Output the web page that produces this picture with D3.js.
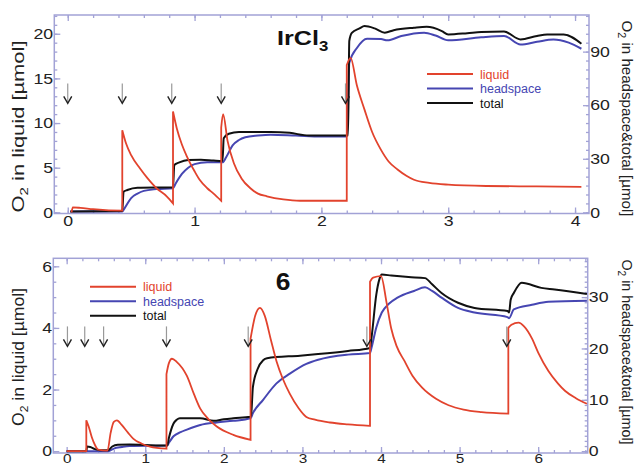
<!DOCTYPE html>
<html>
<head>
<meta charset="utf-8">
<script src="https://cdn.jsdelivr.net/npm/d3@7"></script>
<style>body{margin:0;background:#fff}</style>
</head>
<body>
<svg id="chart"></svg>
<script>
// ---- IrCl3 panel: time [h], liquid in left units, headspace/total in right units
var topLiquid = [[0.03,0],[0.04,0.55],[0.1,0.5],[0.2,0.35],[0.3,0.25],[0.43,0.2],[0.43,9.2],[0.46,7.7],[0.5,6.4],
  [0.57,4.9],[0.63,3.8],[0.7,2.7],[0.78,1.8],[0.83,1.0],[0.83,11.3],[0.86,9.4],[0.9,7.6],[0.94,6.25],[1.0,4.6],
  [1.04,3.64],[1.1,2.7],[1.15,2.1],[1.21,1.3],[1.21,9.5],[1.225,11.0],[1.26,8.0],[1.31,5.5],[1.37,3.8],[1.44,2.7],
  [1.5,2.1],[1.57,1.8],[1.7,1.45],[1.83,1.3],[2.0,1.3],[2.2,1.3],[2.2,16.5],[2.23,17.3],[2.28,14.2],[2.34,11.5],
  [2.4,9.0],[2.47,7.0],[2.53,5.7],[2.6,4.8],[2.67,4.1],[2.73,3.65],[2.85,3.3],[3.0,3.1],[3.3,2.95],[3.7,2.9],[4.05,2.85]];
var topHeadspace = [[0.02,0.5],[0.43,0.5],[0.45,2.5],[0.5,8],[0.55,10.5],[0.6,12],[0.7,13],[0.83,13.5],[0.85,16],
  [0.9,21.5],[0.95,25],[1.0,27],[1.1,28],[1.22,28],[1.25,31],[1.3,37.5],[1.35,40.5],[1.4,42],[1.5,43],[1.6,43.5],
  [1.8,43],[2.0,42.5],[2.2,42.5],[2.21,60],[2.22,83.7],[2.28,92],[2.36,97.2],[2.47,97],[2.52,96.3],[2.63,98.7],
  [2.81,100.6],[2.9,99],[3.0,96.3],[3.26,98],[3.44,98.7],[3.57,94],[3.7,95.5],[3.83,96.8],[3.95,95],[4.05,91.6]];
var topTotal = [[0.02,0.5],[0.43,0.75],[0.44,11.5],[0.47,12.5],[0.55,13.75],[0.83,14],[0.84,26.5],[0.88,28],
  [0.95,29.3],[1.05,29.5],[1.15,29],[1.22,28.75],[1.23,41.5],[1.27,44],[1.35,45],[1.6,45],[1.75,44.5],[1.9,43],
  [2.05,43],[2.21,43],[2.22,96],[2.24,100.5],[2.3,103],[2.34,104.3],[2.42,103],[2.5,100.6],[2.57,102],[2.73,103.4],
  [2.83,103.9],[2.95,101.5],[3.0,99.6],[3.15,100.3],[3.26,101],[3.44,101.2],[3.57,96.8],[3.7,98.8],[3.78,99.6],
  [3.91,99.6],[4.05,94.4]];
var topArrows = [0.0, 0.43, 0.82, 1.21, 2.19];
var topArrowLevel = 12.2;

// ---- compound 6 panel
var botLiquid = [[0,0],[0.25,0],[0.25,1.0],[0.28,0.8],[0.32,0.45],[0.36,0.2],[0.4,0.05],[0.52,0.02],[0.56,0.6],
  [0.6,0.95],[0.64,1.0],[0.7,0.85],[0.78,0.6],[0.85,0.4],[0.95,0.25],[1.06,0.15],[1.27,0.08],[1.27,2.5],[1.3,2.85],
  [1.34,3.0],[1.4,2.9],[1.53,2.44],[1.62,1.85],[1.7,1.38],[1.8,1.05],[1.91,0.8],[2.12,0.53],[2.34,0.37],
  [2.34,3.65],[2.4,4.4],[2.46,4.65],[2.52,4.4],[2.6,3.6],[2.67,2.92],[2.75,2.35],[2.84,1.86],[2.95,1.4],[3.05,1.11],
  [3.16,1.02],[3.35,0.93],[3.58,0.87],[3.86,0.82],[3.86,5.5],[3.9,5.63],[4.0,5.68],[4.07,4.83],[4.13,3.98],
  [4.2,3.4],[4.3,2.92],[4.4,2.45],[4.52,2.07],[4.7,1.7],[4.86,1.49],[5.05,1.35],[5.28,1.27],[5.62,1.22],[5.62,4.0],
  [5.66,4.1],[5.75,4.17],[5.82,4.05],[5.92,3.66],[6.0,3.2],[6.13,2.6],[6.25,2.2],[6.34,1.96],[6.48,1.72],[6.62,1.54]];
var botHeadspace = [[0,0],[0.53,0],[0.6,0.5],[0.7,0.8],[0.8,1.0],[1.28,1.1],[1.3,1.6],[1.36,2.9],[1.45,3.7],
  [1.53,4.2],[1.7,5.1],[1.91,5.6],[2.12,5.9],[2.34,6.4],[2.37,7.4],[2.5,10],[2.67,13.2],[2.84,15.1],[3.05,17],
  [3.2,17.8],[3.58,18.8],[3.86,19.1],[3.88,20.2],[3.94,24.1],[4.01,27],[4.1,28.7],[4.21,29.9],[4.42,31.2],
  [4.56,31.9],[4.65,31.2],[4.77,29.9],[4.98,27.9],[5.19,27],[5.61,26.1],[5.63,25.9],[5.69,27.6],[5.92,28.5],
  [6.13,29.1],[6.62,29.3]];
var botTotal = [[0,0],[0.25,0],[0.26,0.9],[0.3,0.8],[0.36,0.4],[0.42,0.2],[0.53,0.2],[0.58,0.9],[0.65,1.25],
  [0.8,1.3],[1.0,1.2],[1.28,1.1],[1.3,2.5],[1.33,4.2],[1.36,5.4],[1.4,6.1],[1.44,6.4],[1.7,6.4],[1.87,5.9],
  [2.0,6.2],[2.12,6.4],[2.34,6.7],[2.35,7.5],[2.37,12.5],[2.43,16],[2.5,17.7],[2.55,18.1],[2.97,18.6],[3.2,18.9],
  [3.58,19.5],[3.86,20.1],[3.88,22.2],[3.94,30.5],[3.98,33.5],[4.01,34.4],[4.13,34.2],[4.35,33.9],[4.56,33.7],
  [4.65,32.5],[4.77,30.8],[4.98,28.9],[5.19,27.9],[5.61,27.3],[5.63,27.0],[5.65,29.5],[5.69,30.8],[5.79,32.8],
  [6.04,31.8],[6.21,31.5],[6.62,30.6]];
var botArrows = [0.01, 0.23, 0.47, 1.27, 2.31, 3.82, 5.6];
var botArrowLevel = 3.4;

var seriesNames = ["liquid", "headspace", "total"];

var FONT = "'Liberation Sans', Arial, Helvetica, sans-serif";
var FRAME = "#a2a2d6";
var RED = "#e2432d", BLUE = "#4646b2", BLACK = "#111";

var svg = d3.select("#chart").attr("width", 635).attr("height", 467)
  .style("background", "#fff").style("font-family", FONT);

function steps(lo, hi, step) {
  var out = [];
  for (var i = Math.ceil(lo / step - 1e-9); i * step <= hi + 1e-9; i++) out.push(+(i * step).toFixed(4));
  return out;
}

function styleAxis(size) {
  return function (sel) {
    sel.select(".domain").remove();
    sel.selectAll("line").attr("stroke", FRAME).attr("stroke-width", 1.3);
    sel.selectAll("text").attr("font-size", size || 15).attr("fill", "#222").attr("font-family", FONT)
      .attr("transform", "scale(1.18,1)");
  };
}

// smooth curve per piece, pieces split where the series jumps vertically
function jumpPath(data, x, y) {
  var line = d3.line().x(function (d) { return x(d[0]); }).y(function (d) { return y(d[1]); })
    .curve(d3.curveMonotoneX);
  var pieces = [], cur = [data[0]];
  for (var i = 1; i < data.length; i++) {
    if (data[i][0] === data[i - 1][0]) { pieces.push(cur); cur = [data[i]]; }
    else cur.push(data[i]);
  }
  pieces.push(cur);
  return pieces.map(function (pc, i) {
    var s = pc.length > 1 ? line(pc) : "M" + x(pc[0][0]) + "," + y(pc[0][1]);
    return i === 0 ? s : "L" + s.slice(1);
  }).join("");
}

function drawPanel(p) {
  var g = svg.append("g");
  var x = d3.scaleLinear().domain(p.xDomain).range([p.left, p.right]);
  var yL = d3.scaleLinear().domain(p.yDomain).range([p.bottom, p.top]);
  var yR = d3.scaleLinear().domain(p.yDomain.map(function (v) { return v * p.ratio; })).range([p.bottom, p.top]);

  var xMinor = steps(p.xDomain[0], p.xDomain[1], 0.2);
  var xMajor = steps(p.xDomain[0], p.xDomain[1], 1);

  // bottom & top x ticks (inside)
  g.append("g").attr("transform", "translate(0," + p.bottom + ")")
    .call(d3.axisBottom(x).tickValues(xMinor).tickSize(-3).tickFormat("")).call(styleAxis());
  g.append("g").attr("transform", "translate(0," + p.bottom + ")")
    .call(d3.axisBottom(x).tickValues(xMajor).tickSizeInner(-6).tickSizeOuter(0).tickPadding(p.xPad)
      .tickFormat(d3.format("d"))).call(styleAxis(p.xFont));
  g.append("g").attr("transform", "translate(0," + p.top + ")")
    .call(d3.axisTop(x).tickValues(xMinor).tickSize(-3).tickFormat("")).call(styleAxis());
  g.append("g").attr("transform", "translate(0," + p.top + ")")
    .call(d3.axisTop(x).tickValues(xMajor).tickSize(-6).tickFormat("")).call(styleAxis());

  // left axis
  g.append("g").attr("transform", "translate(" + p.left + ",0)")
    .call(d3.axisLeft(yL).tickValues(steps(p.yDomain[0], p.yDomain[1], p.lMinor)).tickSize(-3).tickFormat(""))
    .call(styleAxis());
  g.append("g").attr("transform", "translate(" + p.left + ",0)")
    .call(d3.axisLeft(yL).tickValues(steps(p.yDomain[0], p.yDomain[1], p.lMajor)).tickSizeInner(-6)
      .tickSizeOuter(0).tickPadding(1).tickFormat(d3.format("d"))).call(styleAxis());

  // right axis
  var rd = yR.domain();
  g.append("g").attr("transform", "translate(" + p.right + ",0)")
    .call(d3.axisRight(yR).tickValues(steps(rd[0], rd[1], p.rMinor)).tickSize(-3).tickFormat(""))
    .call(styleAxis());
  g.append("g").attr("transform", "translate(" + p.right + ",0)")
    .call(d3.axisRight(yR).tickValues(steps(rd[0], rd[1], p.rMajor)).tickSizeInner(-6)
      .tickSizeOuter(0).tickPadding(1).tickFormat(d3.format("d"))).call(styleAxis());

  // frame
  g.append("rect").attr("x", p.left).attr("y", p.top)
    .attr("width", p.right - p.left).attr("height", p.bottom - p.top)
    .attr("fill", "none").attr("stroke", FRAME).attr("stroke-width", 1.5);

  // curves
  g.append("path").attr("d", jumpPath(p.headspace, x, yR)).attr("fill", "none").attr("stroke", BLUE).attr("stroke-width", 2);
  g.append("path").attr("d", jumpPath(p.total, x, yR)).attr("fill", "none").attr("stroke", BLACK).attr("stroke-width", 2);
  g.append("path").attr("d", jumpPath(p.liquid, x, yL)).attr("fill", "none").attr("stroke", RED).attr("stroke-width", 1.8);

  // injection arrows
  p.arrows.forEach(function (t) {
    var ax = x(t), tip = yL(p.arrowLevel);
    g.append("line").attr("x1", ax).attr("x2", ax).attr("y1", tip - 20).attr("y2", tip - 1)
      .attr("stroke", "#999").attr("stroke-width", 1.2);
    g.append("path").attr("d", "M" + (ax - 4) + "," + (tip - 7) + "L" + ax + "," + tip + "L" + (ax + 4) + "," + (tip - 7))
      .attr("fill", "none").attr("stroke", "#222").attr("stroke-width", 1.4);
  });

  // legend
  var colors = [RED, BLUE, BLACK];
  seriesNames.forEach(function (name, i) {
    var ly = p.legend[1] + i * 14.5;
    g.append("line").attr("x1", p.legend[0]).attr("x2", p.legend[0] + 46).attr("y1", ly).attr("y2", ly)
      .attr("stroke", colors[i]).attr("stroke-width", 2);
    g.append("text").attr("x", p.legend[0] + 53).attr("y", ly + 4.5).attr("font-size", 12.5)
      .attr("fill", colors[i]).text(name);
  });

  // axis titles
  var lt = g.append("text").attr("transform", "translate(24," + p.lLabel[0] + ") rotate(-90)")
    .attr("text-anchor", "middle").attr("font-size", 16).attr("fill", "#222")
    .attr("textLength", p.lLabel[1]).attr("lengthAdjust", "spacingAndGlyphs");
  lt.append("tspan").text("O");
  lt.append("tspan").attr("font-size", 11).attr("dy", 4).text("2");
  lt.append("tspan").attr("dy", -4).text(" in liquid [µmol]");

  var rt = g.append("text").attr("transform", "translate(622," + p.rLabel[0] + ") rotate(90)")
    .attr("text-anchor", "middle").attr("font-size", 15.5).attr("fill", "#222")
    .attr("textLength", p.rLabel[1]).attr("lengthAdjust", "spacingAndGlyphs");
  rt.append("tspan").text("O");
  rt.append("tspan").attr("font-size", 11).attr("dy", 4).text("2");
  rt.append("tspan").attr("dy", -4).text(" in headspace&total [µmol]");
}

drawPanel({
  left: 54.3, right: 589, top: 15, bottom: 213.5,
  xDomain: [-0.106, 4.11], yDomain: [-0.13, 22.1], ratio: 5,
  lMajor: 5, lMinor: 1, rMajor: 30, rMinor: 5, xFont: 15, xPad: 2,
  liquid: topLiquid, headspace: topHeadspace, total: topTotal,
  arrows: topArrows, arrowLevel: topArrowLevel,
  legend: [427, 74], lLabel: [126.5, 172], rLabel: [118.5, 196]
});

drawPanel({
  left: 53.3, right: 587.7, top: 258.3, bottom: 453,
  xDomain: [-0.17, 6.63], yDomain: [-0.06, 6.26], ratio: 6,
  lMajor: 2, lMinor: 0.5, rMajor: 10, rMinor: 1, xFont: 13, xPad: 0.5,
  liquid: botLiquid, headspace: botHeadspace, total: botTotal,
  arrows: botArrows, arrowLevel: botArrowLevel,
  legend: [90, 286.7], lLabel: [357, 138], rLabel: [352, 185]
});

// panel titles
var t1 = svg.append("text").attr("transform", "translate(277,45) scale(1.2,1)")
  .attr("font-size", 21).attr("font-weight", "bold").attr("fill", "#111");
t1.append("tspan").text("IrCl");
t1.append("tspan").attr("font-size", 14).attr("dy", 6).text("3");

svg.append("text").attr("transform", "translate(283,290) scale(1.1,1)")
  .attr("text-anchor", "middle").attr("font-size", 24).attr("font-weight", "bold").attr("fill", "#111").text("6");
</script>
</body>
</html>
